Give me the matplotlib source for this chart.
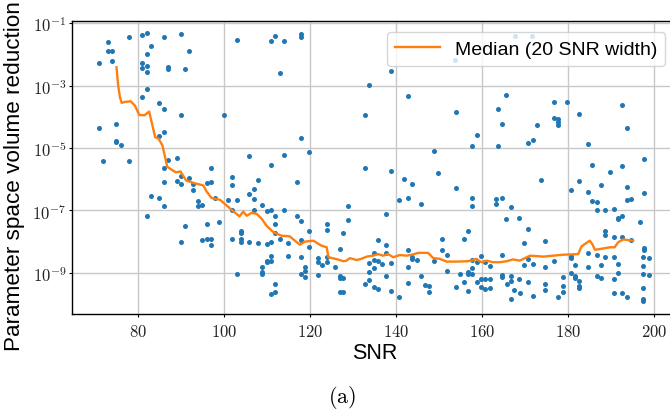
import numpy as np
import matplotlib
matplotlib.use('Agg')
import matplotlib.pyplot as plt
from matplotlib.ticker import FuncFormatter

# scatter points: SNR and log10 of the parameter space volume reduction
snr = [
    71.0, 73.0, 73.0, 74.0, 74.0, 78.0, 80.9, 82.0, 83.0, 82.0, 80.9, 80.9, 82.0, 82.0, 82.0, 80.9,
    86.0, 87.0, 87.0, 89.9, 91.9, 90.9, 85.0, 86.0, 89.9, 71.0, 75.0, 75.0, 75.0, 76.0, 71.9, 78.0,
    85.0, 86.0, 87.0, 86.0, 89.0, 97.0, 86.0, 89.0, 89.9, 89.9, 91.9, 92.9, 92.9, 96.0, 97.0, 97.9,
    83.0, 85.0, 86.0, 82.0, 94.0, 94.0, 95.0, 96.0, 90.9, 89.9, 95.0, 96.0, 97.0, 97.0, 98.8,
    102.95, 110.9, 111.9, 113.95, 117.9, 117.9, 112.95, 99.9, 117.9, 119.9, 105.9, 113.95, 110.9,
    101.9, 101.9, 107.9, 116.9, 106.9, 105.9, 106.9, 100.9, 102.95, 108.9, 101.9, 106.9, 109.9,
    110.9, 111.9, 113.95, 116.9, 117.9, 111.9, 103.95, 103.95, 111.9, 101.9, 103.95, 103.95, 105.9,
    107.9, 109.9, 110.9, 112.95, 114.9, 117.9, 119.9, 119.9, 110.9, 110.9, 109.9, 109.9, 108.9,
    108.9, 108.9, 114.9, 117.9, 102.95, 111.9, 111.9, 110.9, 117.9, 118.9, 118.9, 118.9, 121.9,
    121.9, 122.9, 123.9, 123.9, 123.9, 123.9, 121.9, 125.9, 126.9, 126.9, 126.9, 127.8, 126.9,
    127.8, 127.8, 128.8, 128.8, 132.8, 133.7, 132.8, 132.8, 133.7, 133.7, 133.7,
    138.8, 142.8, 153.9, 153.8, 167.7, 158.8, 157.8, 163.7, 164.7, 165.7, 163.7, 148.8, 149.8,
    138.8, 141.8, 143.8, 140.8, 142.8, 145.8, 153.9, 157.8, 157.8, 163.4, 163.4, 164.7, 166.7,
    165.7, 168.6, 137.8, 135.8, 137.8, 137.8, 134.8, 134.8, 135.8, 134.8, 136.8, 138.8, 137.8,
    138.8, 140.8, 134.8, 135.8, 142.8, 143.8, 143.8, 144.8, 142.8, 142.8, 145.8, 146.8, 147.8,
    147.8, 148.8, 150.8, 150.8, 151.8, 151.8, 153.9, 154.8, 155.8, 156.8, 155.8, 156.8, 156.8,
    156.8, 157.8, 157.8, 157.8, 158.8, 158.8, 159.8, 159.8, 159.8, 160.8, 160.8, 160.8, 161.8,
    161.8, 161.8, 164.8, 164.8, 164.8, 165.8, 166.8, 166.8, 166.8, 167.5, 168.6,
    171.6, 176.7, 179.8, 192.7, 176.7, 177.7, 177.7, 177.7, 182.7, 172.8, 170.8, 171.8, 184.7,
    193.7, 185.7, 189.7, 192.7, 197.7, 173.8, 182.7, 180.8, 184.7, 187.7, 193.7, 193.7, 194.7,
    197.7, 185.7, 186.7, 186.7, 188.7, 190.7, 191.7, 191.7, 192.7, 196.7, 170.8, 169.8, 174.8,
    188.7, 188.7, 190.7, 192.7, 194.7, 197.7, 197.7, 198.8, 184.7, 186.7, 187.7, 188.7, 190.7,
    191.7, 197.6, 197.6, 197.6, 198.8, 180.8, 180.8, 181.7, 184.7, 176.7, 174.8, 171.8, 169.8,
    170.8, 170.8, 168.8, 171.8, 174.8, 174.8, 177.7, 178.8, 178.8, 178.8, 180.8, 181.7, 181.7,
    182.7, 182.7, 182.7, 186.7, 187.7, 190.7, 191.7, 190.7, 192.7, 193.7, 197.6, 197.6, 197.6,
]
log_reduction = [
    -2.27, -1.61, -1.88, -1.88, -2.21, -1.43, -1.37, -1.32, -1.74, -2.00, -2.27, -2.44, -2.36, -2.55, -3.11, -3.36,
    -1.45, -2.40, -2.46, -1.35, -1.88, -2.46, -3.55, -3.75, -3.95, -4.35, -4.23, -4.78, -4.82, -4.90, -5.41, -5.41,
    -4.60, -4.49, -5.37, -5.64, -5.31, -5.64, -6.10, -6.07, -6.16, -5.88, -5.97, -6.16, -6.34, -6.13, -6.08, -6.59,
    -6.53, -6.61, -6.87, -7.18, -6.69, -6.87, -6.81, -7.44, -7.50, -8.02, -7.94, -7.90, -7.90, -8.11, -7.38,
    -1.55, -1.58, -1.41, -1.56, -1.34, -1.43, -2.59, -3.95, -4.69, -5.12, -5.24, -5.21, -5.53,
    -5.94, -6.19, -6.02, -6.09, -6.30, -6.47, -6.64, -6.65, -6.65, -6.81, -7.00, -7.00, -7.03,
    -6.99, -7.18, -7.00, -7.18, -7.35, -7.44, -7.66, -7.72, -7.72, -7.91, -7.91, -8.02, -8.02,
    -8.04, -8.07, -8.01, -7.92, -8.03, -7.94, -7.67, -8.16, -8.45, -8.61, -8.61, -8.66, -8.82,
    -8.98, -9.04, -8.46, -8.49, -9.03, -9.35, -9.61, -9.69, -9.04, -8.82, -8.93, -9.12, -8.53,
    -8.66, -8.75, -8.66, -8.50, -7.64, -7.44, -9.08, -8.82, -8.24, -9.09, -9.17, -9.17, -9.60,
    -9.60, -7.73, -7.32, -6.85, -3.95, -2.98, -5.64, -9.36, -8.70, -8.98, -9.24,
    -2.53, -3.32, -3.85, -2.17, -1.40, -4.58, -4.93, -3.75, -4.24, -3.30, -4.95, -5.11, -5.80,
    -5.74, -5.98, -6.16, -6.65, -6.60, -6.78, -6.29, -6.60, -6.86, -6.64, -6.78, -6.61, -6.88,
    -7.26, -7.23, -7.12, -7.95, -8.10, -8.37, -8.37, -8.58, -8.61, -8.84, -8.73, -8.68, -9.10,
    -9.59, -9.78, -9.46, -9.53, -8.27, -8.50, -8.56, -8.60, -8.82, -9.33, -9.10, -9.38, -9.42,
    -9.62, -8.62, -7.91, -8.27, -8.43, -8.93, -9.44, -9.04, -7.90, -7.66, -9.30, -8.98, -9.04,
    -9.59, -9.04, -8.83, -8.58, -8.66, -9.29, -8.46, -9.20, -9.44, -8.66, -9.20, -9.52, -8.77,
    -9.20, -9.49, -8.43, -9.07, -9.12, -9.36, -9.10, -9.27, -9.84, -9.56, -9.20,
    -1.40, -3.53, -3.51, -3.61, -4.04, -4.07, -4.16, -4.25, -3.91, -4.25, -4.83, -4.75, -4.88,
    -4.37, -5.55, -5.77, -5.56, -5.36, -6.02, -6.05, -6.35, -6.40, -6.18, -6.25, -6.67, -6.62,
    -6.44, -6.70, -6.73, -7.00, -6.98, -6.96, -7.23, -7.29, -7.18, -7.37, -7.58, -8.05, -7.97,
    -7.66, -7.79, -7.84, -7.84, -7.96, -8.20, -8.26, -8.51, -8.36, -8.43, -8.74, -8.49, -8.50,
    -8.72, -8.49, -8.77, -9.04, -9.07, -8.45, -8.52, -8.74, -8.81, -8.62, -8.82, -8.71, -8.74,
    -8.56, -9.31, -9.64, -9.73, -9.37, -9.55, -9.76, -9.14, -9.41, -9.60, -9.00, -9.09, -9.15,
    -9.25, -9.41, -9.49, -9.09, -9.16, -9.20, -9.00, -9.64, -9.66, -9.76, -9.49, -9.84, -9.90,
]

# running median
median_snr = [
    75.0, 75.4, 75.8, 76.2, 77.0, 78.3, 79.3, 80.3, 81.5, 82.6, 84.0, 84.8, 85.7, 86.8, 88.8, 89.9,
    91.2, 93.0, 95.2, 96.0, 97.1, 99.1, 100.2, 102.2, 103.6, 104.5, 105.3, 106.4, 107.6, 108.8,
    109.9, 111.5, 113.4, 115.3, 116.5, 117.7, 118.8, 120.8, 122.7, 123.9, 124.3, 126.2, 127.8,
    128.5, 129.3, 130.9, 132.0, 133.2, 134.7, 135.9, 137.0, 138.2, 139.4, 140.9, 142.5, 144.0,
    145.2, 147.5, 148.7, 150.2, 151.8, 154.1, 156.4, 157.6, 158.7, 159.9, 161.1, 162.6, 164.2,
    165.7, 167.3, 168.8, 171.2, 174.3, 176.6, 178.9, 182.4, 183.2, 185.1, 185.7, 186.3, 187.4,
    189.8, 190.9, 191.7, 192.9, 195.2,
]
median_log = [
    -2.41, -3.00, -3.37, -3.55, -3.52, -3.50, -3.64, -3.94, -3.95, -3.83, -4.65, -4.70, -4.92, -5.60, -5.78, -5.75,
    -6.04, -6.12, -6.20, -6.40, -6.60, -6.66, -6.79, -7.03, -7.19, -7.04, -7.17, -7.08, -7.11, -7.27,
    -7.49, -7.70, -7.81, -7.83, -7.97, -8.10, -8.00, -7.97, -8.13, -8.18, -8.50, -8.56, -8.63,
    -8.61, -8.53, -8.59, -8.55, -8.48, -8.45, -8.40, -8.45, -8.40, -8.50, -8.43, -8.45, -8.41,
    -8.36, -8.36, -8.53, -8.55, -8.64, -8.64, -8.63, -8.61, -8.55, -8.66, -8.61, -8.66, -8.66,
    -8.63, -8.57, -8.61, -8.45, -8.48, -8.45, -8.42, -8.40, -8.15, -7.97, -8.08, -8.26, -8.24,
    -8.18, -8.18, -8.02, -7.93, -7.97,
]

x_ticks = [80, 100, 120, 140, 160, 180, 200]
y_ticks = [1e-9, 1e-7, 1e-5, 1e-3, 1e-1]

plt.rcParams['mathtext.fontset'] = 'cm'
plt.rcParams['font.family'] = ['Liberation Sans', 'DejaVu Sans']

reduction = 10.0 ** np.array(log_reduction)
median_red = 10.0 ** np.array(median_log)

fig = plt.figure(figsize=(6.7, 4.14), dpi=100)
ax = fig.add_axes([72 / 670, 99 / 414, 605 / 670, 293.3 / 414])

ax.scatter(snr, reduction, s=13, color='#1f77b4', linewidths=0, zorder=2)
ax.plot(median_snr, median_red, color='#ff7f0e', lw=1.7, zorder=3,
        label='Median (20 SNR width)')

ax.set_yscale('log')
ax.set_xlim(64.65, 205.4)
ax.set_ylim(10 ** -10.32, 10 ** -0.917)
ax.set_xticks(x_ticks)
ax.set_yticks(y_ticks)
ax.yaxis.set_minor_locator(matplotlib.ticker.NullLocator())
ax.xaxis.set_major_formatter(FuncFormatter(lambda v, p: r'$%d$' % v))
ax.yaxis.set_major_formatter(FuncFormatter(lambda v, p: r'$10^{%d}$' % round(np.log10(v))))
ax.tick_params(labelsize=12, length=2.5, width=0.8, labelcolor='#222222')
ax.tick_params(axis='x', pad=4)
ax.tick_params(axis='y', pad=1.5)

ax.grid(True, color='#c8c8c8', lw=1.0)
ax.set_axisbelow(True)
for s in ax.spines.values():
    s.set_linewidth(1.0)

ax.set_xlabel('SNR', fontsize=15.5, labelpad=2)
ax.set_ylabel('Parameter space volume reduction', fontsize=16.2)
ax.yaxis.set_label_coords((25 - 72) / 605, (315 - 176) / 293.3)

ax.legend(loc='upper right', fontsize=14, handlelength=2.3, borderaxespad=0.6,
          framealpha=0.8)

fig.text(342 / 670, 1 - 398 / 414, r'$\mathrm{(a)}$', fontsize=16, ha='center', va='center')

fig.savefig('out.png', dpi=100)
